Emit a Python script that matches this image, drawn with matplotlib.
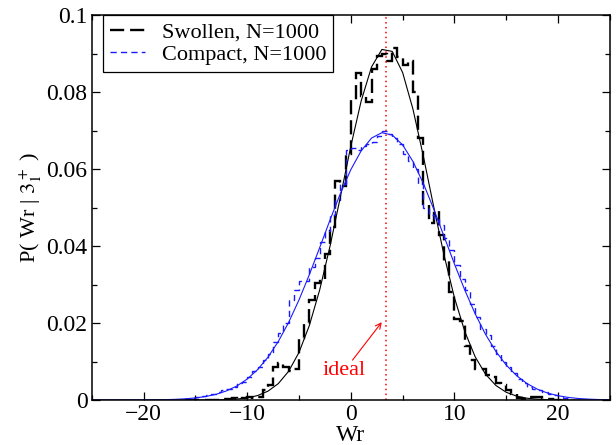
import numpy as np
import matplotlib
matplotlib.use('Agg')
import matplotlib.pyplot as plt

plt.rcParams['font.family'] = 'serif'
plt.rcParams['font.serif'] = ['Liberation Serif', 'DejaVu Serif']
plt.rcParams['mathtext.fontset'] = 'stix'

# bordes de los bins del histograma (ancho 0.5)
bordes = np.arange(-16.0, 21.01, 0.5)

# histograma Swollen, N=1000 (centros -15.75 ... 20.75)
hist_swollen = [0, 0, 0, 0, 0, 0,
                0.0000, 0.0002, 0.0003, 0.0005, 0.0004, 0.0006, 0.0008, 0.0005, 0.0008, 0.0025,
                0.0040, 0.0085, 0.0095, 0.0085, 0.0075, 0.0080, 0.0160, 0.0200, 0.0260, 0.0305,
                0.0310, 0.0380, 0.0450, 0.0570, 0.0555, 0.0640,
                0.0780, 0.0850, 0.0790, 0.0775, 0.0860, 0.0895, 0.0900, 0.0880, 0.0915, 0.0890,
                0.0870, 0.0880, 0.0800, 0.0680, 0.0510, 0.0460, 0.0490, 0.0430, 0.0360, 0.0280,
                0.0210, 0.0205, 0.0140, 0.0105, 0.0080, 0.0080, 0.0065, 0.0060, 0.0045, 0.0040,
                0.0025, 0.0015, 0.0005, 0.0003, 0.0008, 0.0008, 0.0008, 0.0003, 0.0003, 0.0000,
                0, 0]

# histograma Compact, N=1000
hist_compact = [0.0003,
                0.0005, 0.0008, 0.0010, 0.0012, 0.0016, 0.0020, 0.0025, 0.0030, 0.0035, 0.0045,
                0.0048, 0.0060, 0.0075, 0.0085, 0.0105, 0.0120, 0.0150, 0.0175, 0.0200, 0.0260,
                0.0285, 0.0310, 0.0310, 0.0345, 0.0370, 0.0410, 0.0440, 0.0480, 0.0520, 0.0560,
                0.0650,
                0.0655, 0.0650, 0.0660, 0.0665, 0.0670, 0.0685, 0.0700, 0.0690, 0.0680, 0.0665,
                0.0640, 0.0620, 0.0600, 0.0560, 0.0500, 0.0480, 0.0470, 0.0455, 0.0420, 0.0390,
                0.0350, 0.0315, 0.0285, 0.0250, 0.0215, 0.0185, 0.0170, 0.0140, 0.0120, 0.0100,
                0.0085, 0.0070, 0.0055, 0.0045, 0.0035, 0.0030, 0.0025, 0.0020, 0.0015, 0.0012,
                0.0008, 0.0005]

# curvas de ajuste leidas cada 1 unidad de Wr
wr_ajuste = np.arange(-25, 26, 1)
ajuste_swollen = [0, 0, 0, 0, 0, 0, 0, 0, 0, 0, 0,
                  0.00002, 0.00004, 0.00011, 0.00026, 0.00056, 0.00117, 0.0023, 0.00427, 0.00748,
                  0.01238, 0.01938, 0.02866, 0.04004, 0.05286, 0.06594, 0.07771, 0.08655, 0.09109,
                  0.09057, 0.0851, 0.07554, 0.06337, 0.05022, 0.03761, 0.02662, 0.0178, 0.01125,
                  0.00672, 0.00379, 0.00202, 0.00102, 0.00048, 0.00022, 0.00009, 0.00004,
                  0, 0, 0, 0, 0]
ajuste_compact = [0.0, 0.0, 0.0, 0.00001, 0.00001, 0.00003, 0.00005, 0.0001, 0.00018, 0.00032,
                  0.00055, 0.00092, 0.0015, 0.00238, 0.00365, 0.00545, 0.0079, 0.01112, 0.0152,
                  0.02018, 0.02602, 0.03259, 0.03964, 0.04682, 0.05371, 0.05985, 0.06475, 0.06806,
                  0.06946, 0.06885, 0.06629, 0.06198, 0.05628, 0.04964, 0.04251, 0.03537, 0.02857,
                  0.02242, 0.01708, 0.01264, 0.00909, 0.00634, 0.0043, 0.00283, 0.00181, 0.00113,
                  0.00068, 0.0004, 0.00023, 0.00013, 0.00007]

wr_ideal = 3.4

fig = plt.figure(figsize=(6.16, 4.45), dpi=100)
ax = fig.add_axes([0.149, 0.101, 0.841, 0.865])

# histogramas
ax.stairs(hist_swollen, bordes, color='black', lw=1.7, linestyle=(0, (6, 2.5)),
          label='Swollen, N=1000')
ax.stairs(hist_compact, bordes, color='#1a1aff', lw=1.0, linestyle=(0, (4.5, 3)),
          label='Compact, N=1000')

# ajustes
ax.plot(wr_ajuste, ajuste_swollen, color='black', lw=0.8)
ax.plot(wr_ajuste, ajuste_compact, color='#1a1aff', lw=0.8)

# linea ideal
ax.axvline(wr_ideal, color='red', lw=1.1, linestyle=(0, (1, 2.2)))
ax.annotate('', xy=(3.15, 0.0208), xytext=(0.0, 0.0098),
            arrowprops=dict(arrowstyle='->', color='red', lw=0.8))
ax.text(-0.6, 0.0077, 'ideal', color='red', fontsize=16, ha='center', va='center')

ax.set_xlim(-25, 25)
ax.set_ylim(0, 0.1)
ax.set_xticks([-20, -10, 0, 10, 20])
ax.set_xticks(np.arange(-25, 26, 5), minor=True)
ax.set_yticks([0, 0.02, 0.04, 0.06, 0.08, 0.1])
ax.set_yticklabels(['0', '0.02', '0.04', '0.06', '0.08', '0.1'])
ax.set_yticks(np.arange(0, 0.101, 0.01), minor=True)
ax.tick_params(which='both', direction='in', top=True, right=True, labelsize=17, width=0.9)
ax.tick_params(which='major', length=6)
ax.tick_params(which='minor', length=3.6)
ax.tick_params(axis='y', which='major', pad=3)
ax.tick_params(axis='x', which='major', pad=2.5)
for s in ax.spines.values():
    s.set_linewidth(1.1)

ax.set_xlabel('Wr', fontsize=17, labelpad=0)
ax.set_ylabel(r'P( Wr | $3_1^+$ )', fontsize=16, labelpad=2)

leg = ax.legend(loc='upper left', bbox_to_anchor=(0.022, 1.0), borderaxespad=0,
                fontsize=16, fancybox=False, handlelength=1.6, handletextpad=0.75,
                labelspacing=0.1, borderpad=0.3, framealpha=1)
leg.get_frame().set_edgecolor('black')
leg.get_frame().set_linewidth(0.9)

fig.savefig('out.png', dpi=100)
